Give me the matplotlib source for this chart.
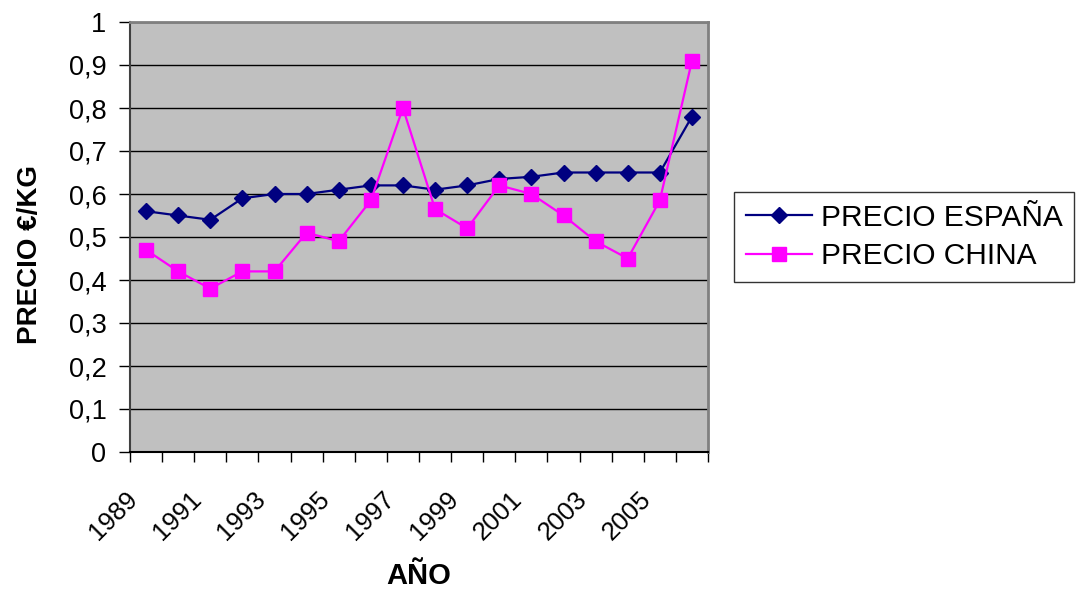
import matplotlib
matplotlib.use("Agg")
import matplotlib.pyplot as plt
from matplotlib.ticker import FixedLocator
from matplotlib.transforms import ScaledTranslation

plt.rcParams['font.family'] = ['Liberation Sans', 'DejaVu Sans']

years = list(range(1989, 2007))
precio_espana = [0.56, 0.55, 0.54, 0.59, 0.60, 0.60, 0.61, 0.62, 0.62, 0.61,
                 0.62, 0.635, 0.64, 0.65, 0.65, 0.65, 0.65, 0.78]
precio_china = [0.47, 0.42, 0.38, 0.42, 0.42, 0.51, 0.49, 0.585, 0.80, 0.565,
                0.52, 0.62, 0.60, 0.55, 0.49, 0.45, 0.585, 0.91]
y_ticks = [0, 0.1, 0.2, 0.3, 0.4, 0.5, 0.6, 0.7, 0.8, 0.9, 1.0]
series_names = ["PRECIO ESPAÑA", "PRECIO CHINA"]

W, H = 1077, 591
fig = plt.figure(figsize=(W / 100, H / 100), dpi=100)
ax = fig.add_axes([130 / W, 1 - 452 / H, (708 - 130) / W, (452 - 22) / H])
ax.set_facecolor('#C0C0C0')

x = list(range(len(years)))
ax.plot(x, precio_espana, color='#000080', lw=1.6, marker='D', ms=8,
        mec='#000080', mfc='#000080', label=series_names[0], zorder=3)
ax.plot(x, precio_china, color='#FF00FF', lw=1.6, marker='s', ms=9.5,
        mec='#FF00FF', mfc='#FF00FF', label=series_names[1], zorder=4)

ax.set_xlim(-0.5, len(years) - 0.5)
ax.set_ylim(0, 1)

# y axis
ax.set_yticks(y_ticks)
ax.set_yticklabels([("%g" % v).replace('.', ',') for v in y_ticks])
ax.yaxis.grid(True, color='black', lw=1.0)
ax.set_axisbelow(True)
ax.tick_params(axis='y', direction='out', length=8, width=1, pad=9,
               labelsize=19.5, colors='black')

# x axis: ticks at category boundaries, labels every 2 years
bounds = [i - 0.5 for i in range(len(years) + 1)]
ax.xaxis.set_major_locator(FixedLocator(bounds))
labels = []
for i in range(len(years) + 1):
    if i < len(years) and i % 2 == 0:
        labels.append(str(years[i]))
    else:
        labels.append("")
ax.set_xticklabels(labels, rotation=45, ha='right', va='top',
                   rotation_mode='anchor')
ax.tick_params(axis='x', direction='out', length=7, width=1, pad=18,
               labelsize=18.5, colors='black')
off = ScaledTranslation(-5 / 100, 0, fig.dpi_scale_trans)
for lab in ax.get_xticklabels():
    lab.set_transform(lab.get_transform() + off)

for side in ['top', 'right']:
    ax.spines[side].set_color('#808080')
    ax.spines[side].set_linewidth(2)
ax.spines['left'].set_color('#404040')
ax.spines['left'].set_linewidth(1.5)
ax.spines['bottom'].set_color('black')
ax.spines['bottom'].set_linewidth(1.5)

fig.text(419 / W, 1 - 576 / H, "AÑO", ha='center', va='center',
         fontsize=21, fontweight='bold')
fig.text(30 / W, 1 - 254 / H, "PRECIO €/KG", ha='center', va='center',
         rotation=90, fontsize=20, fontweight='bold')

leg = fig.legend(loc='center left', bbox_to_anchor=(734 / W, 1 - 237 / H),
                 fontsize=21.5, frameon=True, fancybox=False, shadow=False,
                 handlelength=2.2, handletextpad=0.3, borderpad=0.4,
                 labelspacing=0.35, borderaxespad=0)
leg.get_frame().set_edgecolor('black')
leg.get_frame().set_linewidth(1.0)

fig.savefig("out.png", dpi=100)
